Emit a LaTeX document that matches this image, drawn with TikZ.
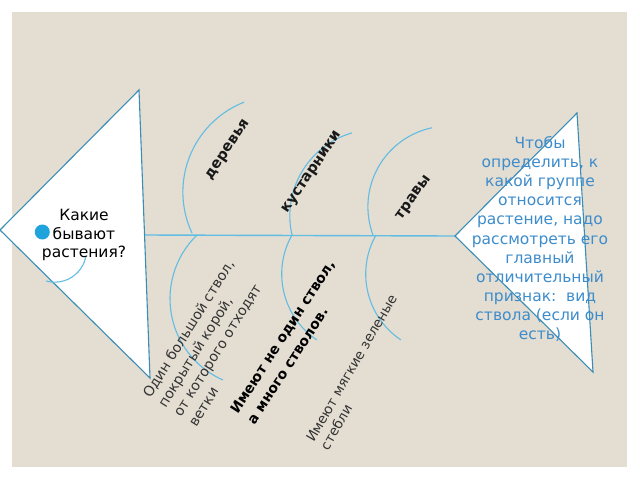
\documentclass[tikz,border=0pt]{standalone}
\usepackage{fontspec}
\setmainfont{DejaVu Sans}
\definecolor{bg}{HTML}{E3DDD2}
\definecolor{tri}{HTML}{3A8DB5}
\definecolor{bone}{HTML}{62BDE3}
\definecolor{dotc}{HTML}{1EA3DD}
\definecolor{bluetxt}{HTML}{3D8CCB}
\begin{document}
\begin{tikzpicture}[x=1pt,y=-1pt,
  tribox/.style={draw=tri, fill=white, line width=1.1pt, line join=miter},
  spine/.style={draw=bone, line width=1.4pt},
  bonearc/.style={draw=bone, line width=1.1pt},
  cat/.style={inner sep=0pt, font=\bfseries\fontsize{14.5}{18}\selectfont, text=black!90},
  cause/.style={inner sep=0pt, align=left, text=black!80}]
\useasboundingbox (0,0) rectangle (640,480);
\fill[white] (0,0) rectangle (640,480);
\fill[bg] (12,12) rectangle (627,467);
% head and tail
\coordinate (LA) at (0,230);
\coordinate (LT) at (139,90);
\coordinate (LB) at (150,378);
\coordinate (RA) at (455,236);
\coordinate (RT) at (577,113);
\coordinate (RB) at (593,372);
\coordinate (SL) at (144.5,235);
\draw[spine] (SL) -- (RA);
\draw[tribox] (LA) -- (LT) -- (LB) -- cycle;
\draw[tribox] (RA) -- (RT) -- (RB) -- cycle;
% bones (upper)
\coordinate (U1) at (192,233);
\coordinate (U2) at (292,235);
\coordinate (U3) at (373,235);
\draw[bonearc] (U1) arc[start angle=205.1, end angle=111.5, radius=96.6pt];
\draw[bonearc] (U2) arc[start angle=192.9, end angle=106.2, radius=86.3pt];
\draw[bonearc] (U3) arc[start angle=200.5, end angle=101.9, radius=80.7pt];
% bones (lower)
\coordinate (D1) at (197,235);
\coordinate (D2) at (292,235);
\coordinate (D3) at (376,235);
\draw[bonearc] (D1) arc[start angle=134.1, end angle=246.2, radius=88.8pt];
\draw[bonearc] (D2) arc[start angle=150.5, end angle=236.1, radius=79.3pt];
\draw[bonearc] (D3) arc[start angle=150.5, end angle=236.1, radius=79.3pt];
% small arc in head
\coordinate (SA) at (85.7,257.3);
\draw[bonearc] (SA) arc[start angle=-12.4, end angle=-105.9, radius=31.7pt];
% texts
\node[align=center, inner sep=0pt, font=\fontsize{15.5}{18.5}\selectfont] (q) at (84,235)
  {Какие\\бывают\\растения?};
\node[circle, fill=dotc, minimum size=15pt, inner sep=0pt] (dot) at (42.3,232) {};
\node[align=center, inner sep=0pt, text=bluetxt, font=\fontsize{15.5}{19.1}\selectfont] (hint) at (540,239)
  {Чтобы\\определить, к\\какой группе\\относится\\растение, надо\\рассмотреть его\\главный\\отличительный\\признак:~~вид\\ствола (если он\\есть)};
\node[cat, rotate=56] (trees) at (228.3,150) {деревья};
\node[cat, rotate=56] (shrubs) at (312.5,172.5) {кустарники};
\node[cat, rotate=54] (grass) at (414,198) {травы};
\node[cause, rotate=58, anchor=north west, font=\fontsize{14}{18}\selectfont] (ca) at (141,393)
  {Один большой ствол,\\покрытый корой,\\от которого отходят\\ветки};
\node[cause, rotate=57, anchor=north west, text=black, font=\bfseries\fontsize{14}{20}\selectfont] (cb) at (229,409)
  {Имеют не один ствол,\\а много стволов.};
\node[cause, rotate=60, anchor=north west, font=\fontsize{13.5}{16.5}\selectfont] (cc) at (305,438)
  {Имеют мягкие зеленые\\стебли};
\end{tikzpicture}
\end{document}
